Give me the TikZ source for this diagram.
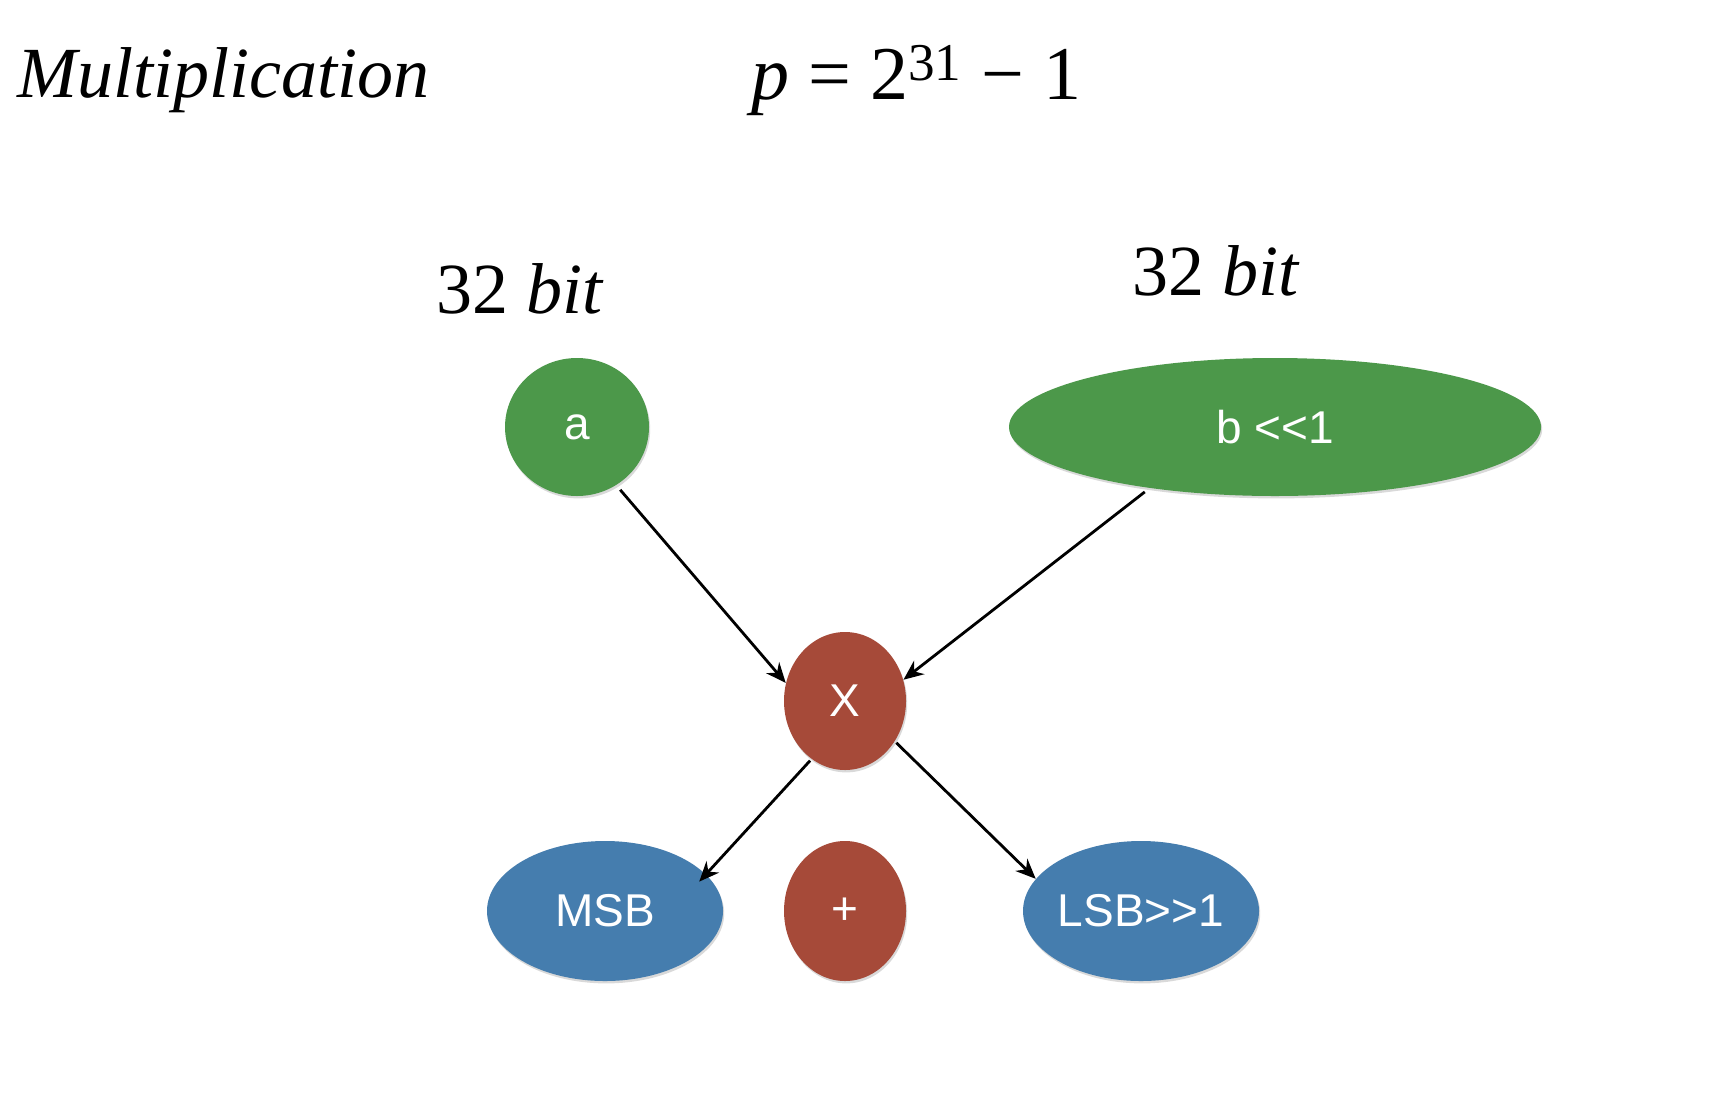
\documentclass[tikz,border=0pt]{standalone}
\usepackage{fontspec}
\setmainfont{Liberation Serif}
\newfontfamily\labelfont{Liberation Sans}
\usepackage{xcolor}
\usetikzlibrary{arrows.meta,shapes.geometric,shadows}
\definecolor{opgreen}{RGB}{76,152,74}
\definecolor{opred}{RGB}{166,74,57}
\definecolor{opblue}{RGB}{69,125,174}

\begin{document}
\begin{tikzpicture}[
  x=0.5pt,y=-0.5pt,
  blob/.style={ellipse,inner sep=0pt,text=white,font=\labelfont\fontsize{23}{23}\selectfont,
    drop shadow={shadow xshift=0.6pt,shadow yshift=-1.2pt,opacity=0.3}},
  operand/.style={blob,fill=opgreen},
  operator/.style={blob,fill=opred,minimum width=61pt},
  result/.style={blob,fill=opblue,minimum width=118pt,minimum height=70pt},
  heading/.style={font=\fontsize{36}{36}\selectfont,anchor=base west,inner sep=0pt},
  ar/.style={-{Stealth[length=10pt,width=8.5pt]},line width=1.4pt}
]
\useasboundingbox (0,0) rectangle (1732,1108);
% headings
\node[heading] (title) at (17,97)  {\itshape Multiplication};
\node[heading,font=\fontsize{38}{38}\selectfont] (prime) at (751,99)
  {\textit{p} = 2\textsuperscript{31} − 1};
\node[heading] (wa)    at (436,313) {32 \textit{bit}};
\node[heading] (wb)    at (1132,295) {32 \textit{bit}};
% operands
\node[operand,minimum width=72pt,minimum height=69pt]  (a) at (577,427)  {a};
\node[operand,minimum width=266pt,minimum height=69pt] (b) at (1275,427) {b <<1};
% product and reduction
\node[operator,minimum height=69pt] (X)    at (845,701) {X};
\node[result]                       (msb)  at (605,911) {MSB};
\node[operator,minimum height=70pt] (plus) at (845,911) {+};
\node[result]                       (lsb)  at (1141,911) {LSB>>1};

\draw[ar,shorten <=3pt] (a.-56) -- (X.163);
\draw[ar,shorten <=3pt] (b.206) -- (X.20);
\draw[ar,shorten <=1pt,shorten >=-5pt] (X.-120) -- (msb.20);
\draw[ar,shorten <=1pt] (X.-39) -- (lsb.163);
\end{tikzpicture}
\end{document}
